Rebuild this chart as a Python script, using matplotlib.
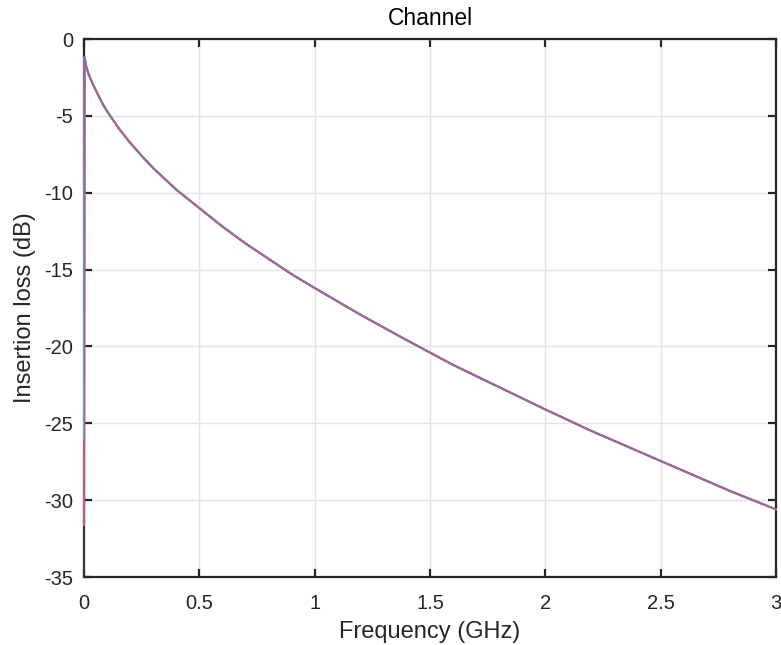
import matplotlib.pyplot as plt

# insertion loss (GHz, dB)
freq = [0.0, 0.002, 0.005, 0.01, 0.02, 0.04, 0.06, 0.08, 0.1, 0.15, 0.2, 0.25, 0.3,
        0.4, 0.5, 0.6, 0.7, 0.8, 0.9, 1.0, 1.2, 1.4, 1.6, 1.8, 2.0, 2.2, 2.4,
        2.6, 2.8, 3.0]
loss = [-1.2, -1.2, -1.4, -1.8, -2.3, -3.0, -3.6, -4.2, -4.7, -5.8, -6.75, -7.6, -8.4,
        -9.8, -11.0, -12.2, -13.3, -14.3, -15.3, -16.2, -17.95, -19.6, -21.2, -22.65,
        -24.1, -25.5, -26.8, -28.1, -29.4, -30.6]

# DC value of each trace (they only differ at f = 0)
dc_gray = -35.0
dc_cyan = -26.0
dc_red = -31.6
dc_blue = -31.6

xticks = [0, 0.5, 1, 1.5, 2, 2.5, 3]
yticks = [-35, -30, -25, -20, -15, -10, -5, 0]

plt.rcParams['font.family'] = ['Liberation Sans', 'DejaVu Sans']

fig = plt.figure(figsize=(7.81, 6.45), dpi=100)
ax = fig.add_axes([0.1076, 0.1054, 0.8860, 0.8341])

# lines sit on top of the box so the f = 0 drop stays visible
ax.plot(freq, [dc_gray] + loss[1:], color='#404040', lw=1.0, clip_on=False, zorder=3)
ax.plot(freq, [dc_red] + loss[1:], color='#d9546a', lw=1.6, clip_on=False, zorder=3)
ax.plot(freq, [dc_cyan] + loss[1:], color='#4dbeee', lw=1.3, clip_on=False, zorder=3)
ax.plot(freq, [dc_red] + loss[1:], color='#d9546a', lw=1.3, zorder=3)
ax.plot(freq, [dc_blue] + loss[1:], color='#5b7fc6', lw=1.3, ls=(0, (1.0, 1.0)), zorder=3)

ax.set_xlim(0, 3)
ax.set_ylim(-35, 0)
ax.set_xticks(xticks)
ax.set_xticklabels([f'{t:g}' for t in xticks])
ax.set_yticks(yticks)
ax.set_yticklabels([f'{t:g}' for t in yticks])

ax.grid(True, color='#e3e3e3', lw=1.0)
ax.set_axisbelow(True)
ax.tick_params(direction='in', length=6, width=1.6, colors='#262626',
               labelsize=14.5, top=True, right=True)
ax.tick_params(axis='x', pad=12)
ax.tick_params(axis='y', pad=8)
for s in ax.spines.values():
    s.set_color('#262626')
    s.set_linewidth(1.6)

ax.set_xlabel('Frequency (GHz)', fontsize=17, color='#262626', labelpad=6)
ax.set_ylabel('Insertion loss (dB)', fontsize=17, color='#262626', labelpad=6)
ax.set_title('Channel', fontsize=16.5, color='black', pad=10)

fig.savefig('out.png', dpi=100)
